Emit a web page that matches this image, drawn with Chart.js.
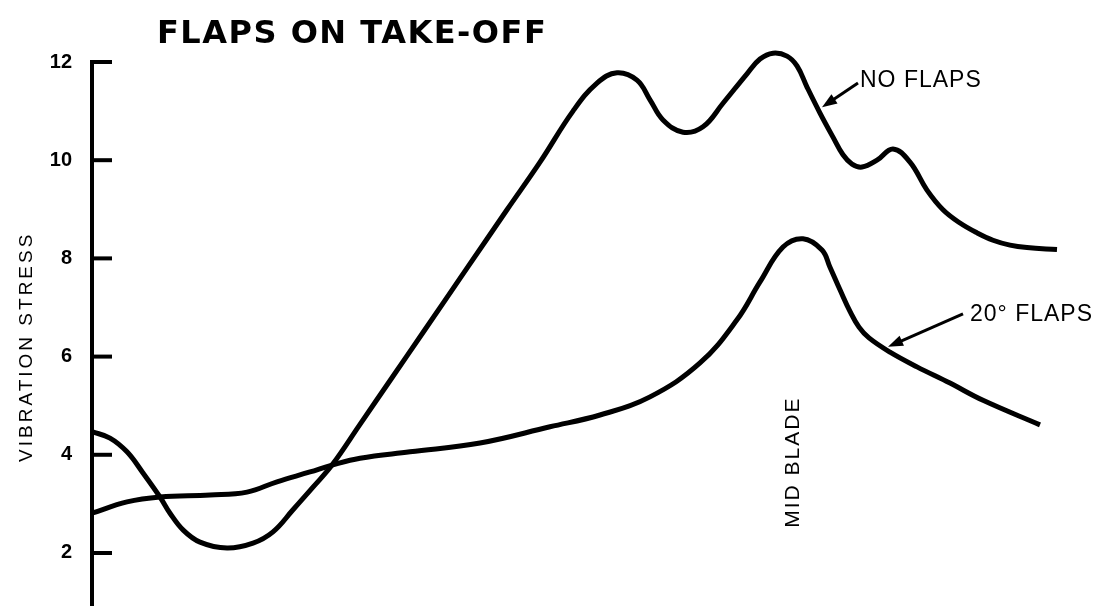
<!DOCTYPE html>
<html>
<head>
<meta charset="utf-8">
<script src="https://cdn.jsdelivr.net/npm/chart.js@4"></script>
<style>
  html, body { margin: 0; padding: 0; background: #fff; }
  #wrap { width: 1094px; height: 606px; position: relative; }
</style>
</head>
<body>
<div id="wrap"><canvas id="flapsChart"></canvas></div>
<script>
// blade station (arbitrary units, axis at 0) and vibration stress
const noFlapsX = [0, 1.8, 3.5, 5.1, 6.8, 7.8, 9.1, 10.8, 13.5, 16.1, 18.1, 20.1, 22.1, 24.0, 26.8, 30.1, 33.1, 37.5, 41.5, 44.8, 48.1, 50.5, 52.5, 54.5, 55.8, 57.1, 59.1, 61.1, 63.1, 65.5, 66.8, 68.1, 69.5, 70.5, 71.5, 72.8, 74.1, 75.1, 76.0, 77.0, 78.5, 80.1, 81.8, 83.5, 85.1, 86.8, 88.5, 90.1, 91.8, 93.5, 96.5];
const noFlapsY = [4.47, 4.34, 4.06, 3.63, 3.14, 2.81, 2.47, 2.22, 2.10, 2.20, 2.43, 2.88, 3.34, 3.79, 4.62, 5.60, 6.49, 7.80, 8.99, 9.96, 11.00, 11.57, 11.78, 11.63, 11.23, 10.82, 10.57, 10.68, 11.16, 11.76, 12.06, 12.18, 12.12, 11.92, 11.49, 10.96, 10.47, 10.11, 9.92, 9.86, 10.00, 10.23, 9.96, 9.39, 8.99, 8.72, 8.52, 8.37, 8.27, 8.22, 8.18];

const flaps20X = [0, 3.5, 6.8, 11.8, 15.5, 18.5, 21.8, 24.0, 26.8, 31.8, 38.8, 45.8, 50.8, 55.8, 60.8, 64.5, 66.8, 69.1, 71.1, 73.0, 73.8, 74.8, 75.8, 76.7, 77.7, 79.8, 82.5, 85.8, 89.1, 94.8];
const flaps20Y = [2.81, 3.04, 3.14, 3.18, 3.24, 3.45, 3.65, 3.79, 3.93, 4.06, 4.24, 4.57, 4.81, 5.18, 5.87, 6.75, 7.52, 8.23, 8.40, 8.17, 7.82, 7.36, 6.92, 6.60, 6.38, 6.09, 5.79, 5.46, 5.11, 4.61];

const yTicks = [2, 4, 6, 8, 10, 12];

const chartTitle = 'FLAPS ON TAKE-OFF';
const yTitle = 'VIBRATION STRESS';
const midBladeLabel = 'MID BLADE';
const noFlapsLabel = 'NO FLAPS';
const flaps20Label = '20° FLAPS';

const toPoints = (xs, ys) => xs.map((v, i) => ({ x: v, y: ys[i] }));

const arrow = (ctx, x1, y1, x2, y2) => {
    const ang = Math.atan2(y2 - y1, x2 - x1);
    ctx.beginPath();
    ctx.moveTo(x1, y1);
    ctx.lineTo(x2 - 8 * Math.cos(ang), y2 - 8 * Math.sin(ang));
    ctx.stroke();
    ctx.beginPath();
    ctx.moveTo(x2, y2);
    ctx.lineTo(x2 - 16 * Math.cos(ang - 0.35), y2 - 16 * Math.sin(ang - 0.35));
    ctx.lineTo(x2 - 16 * Math.cos(ang + 0.35), y2 - 16 * Math.sin(ang + 0.35));
    ctx.closePath();
    ctx.fill();
};

const annotate = {
    id: 'annotate',
    afterDraw(chart) {
        const { ctx, chartArea, scales: { x, y } } = chart;
        ctx.save();
        ctx.fillStyle = '#000';
        ctx.strokeStyle = '#000';

        // tick marks pointing into the plot
        ctx.lineWidth = 4;
        yTicks.forEach(v => {
            const py = y.getPixelForValue(v);
            ctx.beginPath();
            ctx.moveTo(chartArea.left, py);
            ctx.lineTo(chartArea.left + 20, py);
            ctx.stroke();
        });

        // title
        ctx.font = 'bold 32px "DejaVu Sans", sans-serif';
        ctx.letterSpacing = '1.5px';
        ctx.textAlign = 'left';
        ctx.textBaseline = 'alphabetic';
        ctx.fillText(chartTitle, chartArea.left + 65, 43);

        // y axis title
        ctx.save();
        ctx.font = '19px "Liberation Sans", Arial, sans-serif';
        ctx.letterSpacing = '3px';
        ctx.textAlign = 'center';
        ctx.textBaseline = 'middle';
        ctx.translate(27, y.getPixelForValue(6.2));
        ctx.rotate(-Math.PI / 2);
        ctx.fillText(yTitle, 0, 0);
        ctx.restore();

        // MID BLADE
        ctx.save();
        ctx.font = '21px "Liberation Sans", Arial, sans-serif';
        ctx.letterSpacing = '2px';
        ctx.textAlign = 'center';
        ctx.textBaseline = 'middle';
        ctx.translate(x.getPixelForValue(70.1), y.getPixelForValue(3.85));
        ctx.rotate(-Math.PI / 2);
        ctx.fillText(midBladeLabel, 0, 0);
        ctx.restore();

        // curve labels with arrows
        ctx.font = '23px "Liberation Sans", Arial, sans-serif';
        ctx.letterSpacing = '1px';
        ctx.textAlign = 'left';
        ctx.textBaseline = 'middle';
        ctx.fillText(noFlapsLabel, x.getPixelForValue(76.8), y.getPixelForValue(11.63));
        ctx.fillText(flaps20Label, x.getPixelForValue(87.8), y.getPixelForValue(6.85));

        ctx.lineWidth = 3;
        arrow(ctx, x.getPixelForValue(76.6), y.getPixelForValue(11.57), x.getPixelForValue(73.0), y.getPixelForValue(11.08));
        arrow(ctx, x.getPixelForValue(87.1), y.getPixelForValue(6.87), x.getPixelForValue(79.6), y.getPixelForValue(6.2));
        ctx.restore();
    }
};

const ctx = document.getElementById('flapsChart').getContext('2d');
const flapsChart = new Chart(ctx, {
    type: 'line',
    data: {
        datasets: [
            {
                label: noFlapsLabel,
                data: toPoints(noFlapsX, noFlapsY),
                borderColor: '#000',
                borderWidth: 5,
                pointRadius: 0,
                tension: 0.4,
                clip: false,
                fill: false,
            },
            {
                label: flaps20Label,
                data: toPoints(flaps20X, flaps20Y),
                borderColor: '#000',
                borderWidth: 5,
                pointRadius: 0,
                tension: 0.4,
                clip: false,
                fill: false,
            }
        ]
    },
    options: {
        responsive: true,
        maintainAspectRatio: false,
        animation: false,
        layout: {
            padding: { top: 62, right: 2, bottom: 0, left: 0 }
        },
        scales: {
            x: {
                type: 'linear',
                min: 0,
                max: 100,
                display: false,
            },
            y: {
                min: 0.92,
                max: 12,
                afterFit: (scale) => {
                    scale.width = 92;
                    scale.paddingTop = 0;
                    scale.paddingBottom = 0;
                },
                afterBuildTicks: (scale) => { scale.ticks = yTicks.map(v => ({ value: v })); },
                border: { display: true, color: '#000', width: 4 },
                grid: { drawOnChartArea: false, drawTicks: false },
                ticks: {
                    color: '#000',
                    padding: 20,
                    font: { family: '"Liberation Sans", Arial, sans-serif', size: 20, weight: 'bold' },
                },
            }
        },
        plugins: {
            legend: { display: false },
            tooltip: { enabled: false },
        }
    },
    plugins: [annotate]
});
</script>
</body>
</html>
